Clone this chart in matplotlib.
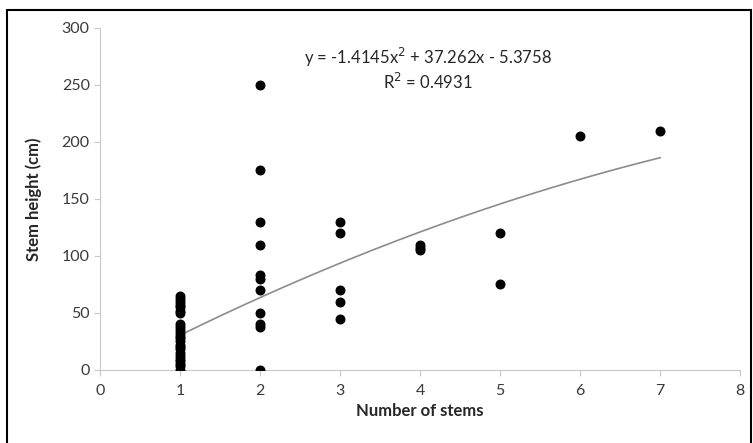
import numpy as np
import matplotlib.pyplot as plt
from matplotlib.patches import Rectangle

# data
stems_1 = [65, 62, 60, 57, 55, 52, 50, 40, 38, 35, 32, 30, 28, 25, 22, 20, 18, 15, 12, 10, 8, 5, 3, 0]
stems_2 = [250, 175, 130, 110, 83, 80, 70, 50, 40, 38, 0]
stems_3 = [130, 120, 70, 60, 45]
stems_4 = [110, 107, 105]
stems_5 = [120, 75]
stems_6 = [205]
stems_7 = [210]

groups = [stems_1, stems_2, stems_3, stems_4, stems_5, stems_6, stems_7]
x = np.concatenate([[i + 1] * len(g) for i, g in enumerate(groups)])
y = np.concatenate(groups)

# trendline coefficients as printed on the chart
a, b, c = -1.4145, 37.262, -5.3758

plt.rcParams['font.family'] = ['Lato', 'DejaVu Sans']

fig = plt.figure(figsize=(7.53, 4.43), dpi=100)
ax = fig.add_axes([0.133, 0.165, 0.85, 0.772])

xx = np.linspace(1, 7, 200)
ax.plot(xx, a * xx**2 + b * xx + c, color='#8c8c8c', lw=1.2, zorder=2)
ax.scatter(x, y, s=38, color='black', zorder=3)

ax.set_xlim(0, 8)
ax.set_ylim(0, 300)
ax.set_xticks(range(0, 9))
ax.set_yticks(range(0, 301, 50))

for s in ['top', 'right']:
    ax.spines[s].set_visible(False)
for s in ['left', 'bottom']:
    ax.spines[s].set_color('#c8c8c8')
ax.tick_params(colors='#c8c8c8', labelcolor='#3a3a3a', labelsize=11.5, length=4)
ax.tick_params(axis='x', pad=6)

ax.set_xlabel('Number of stems', fontsize=12, fontweight='bold', color='#262626', labelpad=4)
ax.set_ylabel('Stem height (cm)', fontsize=12, fontweight='bold', color='#262626', labelpad=14)

ax.text(4.1, 274, 'y = -1.4145x$^2$ + 37.262x - 5.3758', ha='center', va='center',
        fontsize=12, color='#262626')
ax.text(4.1, 253, 'R$^2$ = 0.4931', ha='center', va='center', fontsize=12, color='#262626')

fig.patches.append(Rectangle((0.009, -0.01), 0.988, 0.988, transform=fig.transFigure,
                             fill=False, edgecolor='black', lw=1.5))

fig.savefig('out.png', dpi=100)
